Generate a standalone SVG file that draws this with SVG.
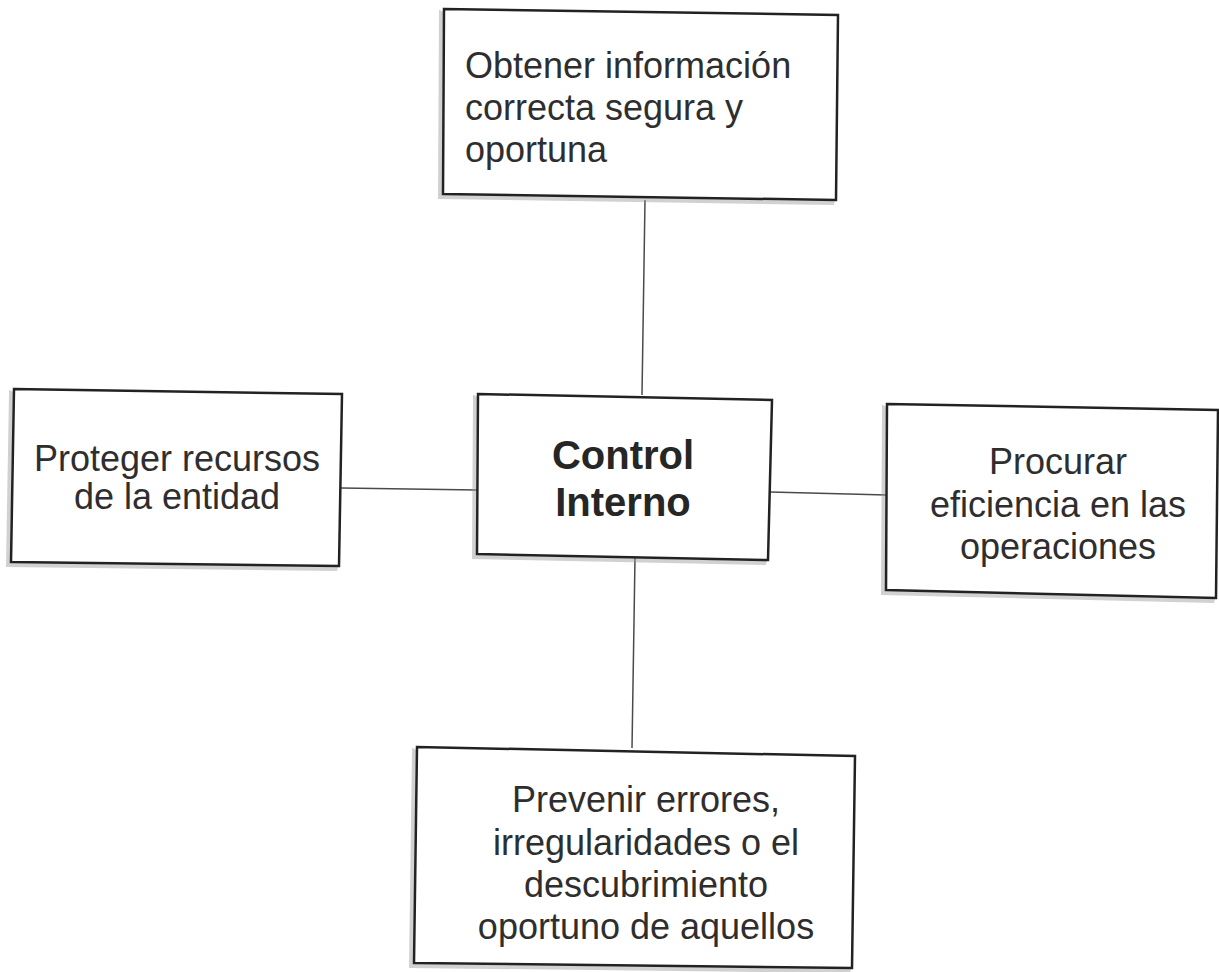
<svg xmlns="http://www.w3.org/2000/svg" width="1219" height="972" viewBox="0 0 1219 972">
  <defs>
    <style>
      .box { fill: #ffffff; stroke: #222222; stroke-width: 2.5; stroke-linejoin: miter; }
      .shadow { fill: none; stroke: #9a9a9a; stroke-width: 4; opacity: 0.45; }
      .conn { stroke: #4a4a4a; stroke-width: 1.5; fill: none; }
      .t { font-family: "Liberation Sans", Arial, sans-serif; font-size: 36px; fill: #2e2e2e; }
      .b { font-family: "Liberation Sans", Arial, sans-serif; font-size: 40px; font-weight: bold; fill: #262626; }
    </style>
  </defs>
  <rect width="1219" height="972" fill="#ffffff"/>

  <g id="connectors">
    <line class="conn" x1="645" y1="200" x2="642" y2="395"/>
    <line class="conn" x1="341" y1="488" x2="477" y2="490"/>
    <line class="conn" x1="770" y1="492" x2="887" y2="495"/>
    <line class="conn" x1="635" y1="558" x2="632" y2="748"/>
  </g>

  <g id="node-top">
    <polygon class="shadow" points="441,13 440,197 834,203"/>
    <polygon class="box" points="444,9 838,15 836,200 443,194"/>
    <text class="t" x="465" y="78">Obtener información</text>
    <text class="t" x="465" y="120">correcta segura y</text>
    <text class="t" x="465" y="162">oportuna</text>
  </g>

  <g id="node-left">
    <polygon class="shadow" points="11,393 8,565 337,569"/>
    <polygon class="box" points="14,389 342,394 339,566 11,562"/>
    <text class="t" x="177" y="471" text-anchor="middle">Proteger recursos</text>
    <text class="t" x="177" y="509" text-anchor="middle">de la entidad</text>
  </g>

  <g id="node-center">
    <polygon class="shadow" points="475,398 474,557 766,563"/>
    <polygon class="box" points="478,394 772,400 768,560 477,554"/>
    <text class="b" x="623" y="469" text-anchor="middle">Control</text>
    <text class="b" x="623" y="516" text-anchor="middle">Interno</text>
  </g>

  <g id="node-right">
    <polygon class="shadow" points="884,408 883,593 1214,601"/>
    <polygon class="box" points="887,404 1218,410 1216,598 886,590"/>
    <text class="t" x="1058" y="474" text-anchor="middle">Procurar</text>
    <text class="t" x="1058" y="517" text-anchor="middle">eficiencia en las</text>
    <text class="t" x="1058" y="559" text-anchor="middle">operaciones</text>
  </g>

  <g id="node-bottom">
    <polygon class="shadow" points="414,751 411,966 850,971"/>
    <polygon class="box" points="417,747 855,756 852,968 414,963"/>
    <text class="t" x="646" y="812" text-anchor="middle">Prevenir errores,</text>
    <text class="t" x="646" y="855" text-anchor="middle">irregularidades o el</text>
    <text class="t" x="646" y="897" text-anchor="middle">descubrimiento</text>
    <text class="t" x="646" y="939" text-anchor="middle">oportuno de aquellos</text>
  </g>
</svg>
